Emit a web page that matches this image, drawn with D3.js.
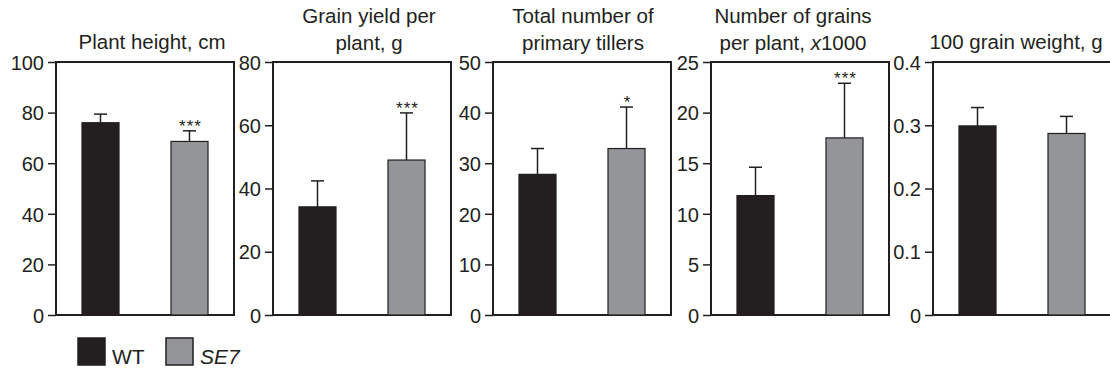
<!DOCTYPE html>
<html>
<head>
<meta charset="utf-8">
<script src="https://cdn.jsdelivr.net/npm/d3@7"></script>
<style>
  body { margin: 0; background: #fff; }
  text { font-family: "Liberation Sans", Arial, Helvetica, sans-serif; fill: #231f20; }
</style>
</head>
<body>
<div id="chart"></div>
<script>
// data
var groups = ["WT", "SE7"];
var titles = [
  ["Plant height, cm"],
  ["Grain yield per", "plant, g"],
  ["Total number of", "primary tillers"],
  ["Number of grains", "per plant, x1000"],
  ["100 grain weight, g"]
];
var yMax = [100, 80, 50, 25, 0.4];
var tickVals = [
  [0, 20, 40, 60, 80, 100],
  [0, 20, 40, 60, 80],
  [0, 10, 20, 30, 40, 50],
  [0, 5, 10, 15, 20, 25],
  [0, 0.1, 0.2, 0.3, 0.4]
];
var wtMeans = [76, 34.2, 27.8, 11.8, 0.299];
var wtErr = [3.4, 8.2, 5.1, 2.8, 0.029];
var se7Means = [68.6, 49.0, 32.9, 17.5, 0.287];
var se7Err = [4.2, 14.9, 8.2, 5.4, 0.027];
var stars = ["***", "***", "*", "***", ""];

var width = 1110;
var height = 370;
var panelLeft = [56, 273, 493, 711, 933];
var titleShift = [7, 7, 1, -7, -6];
var panelW = 178;
var plotTop = 62;
var plotBottom = 315;
var colors = { WT: "#231f20", SE7: "#939598" };

var svg = d3.select("#chart")
  .append("svg")
  .attr("width", width)
  .attr("height", height);

titles.forEach(function (t, i) {
  var g = svg.append("g").attr("transform", `translate(${panelLeft[i]},0)`);

  var x = d3.scaleBand()
    .domain(groups)
    .range([0, panelW])
    .paddingInner(0.584)
    .paddingOuter(0.292);

  var y = d3.scaleLinear()
    .domain([0, yMax[i]])
    .range([plotBottom, plotTop]);

  var rows = [
    { name: "WT", v: wtMeans[i], e: wtErr[i], s: "" },
    { name: "SE7", v: se7Means[i], e: se7Err[i], s: stars[i] }
  ];

  // frame
  g.append("rect")
    .attr("x", 0)
    .attr("y", plotTop)
    .attr("width", panelW)
    .attr("height", plotBottom - plotTop)
    .attr("fill", "none")
    .attr("stroke", "#231f20")
    .attr("stroke-width", 2);

  // error bars (drawn first so the bar covers the lower half)
  var err = g.selectAll(".err").data(rows).enter().append("g");
  err.append("line")
    .attr("x1", function (d) { return x(d.name) + x.bandwidth() / 2; })
    .attr("x2", function (d) { return x(d.name) + x.bandwidth() / 2; })
    .attr("y1", function (d) { return y(d.v); })
    .attr("y2", function (d) { return y(d.v + d.e); })
    .attr("stroke", "#231f20")
    .attr("stroke-width", 1.5);
  err.append("line")
    .attr("x1", function (d) { return x(d.name) + x.bandwidth() / 2 - 6.5; })
    .attr("x2", function (d) { return x(d.name) + x.bandwidth() / 2 + 6.5; })
    .attr("y1", function (d) { return y(d.v + d.e); })
    .attr("y2", function (d) { return y(d.v + d.e); })
    .attr("stroke", "#231f20")
    .attr("stroke-width", 1.5);

  g.selectAll(".bar")
    .data(rows)
    .enter()
    .append("rect")
    .attr("x", function (d) { return x(d.name); })
    .attr("y", function (d) { return y(d.v); })
    .attr("width", x.bandwidth())
    .attr("height", function (d) { return plotBottom - y(d.v); })
    .attr("fill", function (d) { return colors[d.name]; })
    .attr("stroke", "#231f20")
    .attr("stroke-width", 1.2);

  g.selectAll(".star")
    .data(rows)
    .enter()
    .append("text")
    .attr("x", function (d) { return x(d.name) + x.bandwidth() / 2 + 1; })
    .attr("y", function (d) { return y(d.v + d.e) + 1; })
    .attr("text-anchor", "middle")
    .style("font-size", "17px")
    .style("letter-spacing", "1px")
    .text(function (d) { return d.s; });

  // y axis
  var axis = g.append("g")
    .call(d3.axisLeft(y)
      .tickValues(tickVals[i])
      .tickFormat(function (d) { return String(d); })
      .tickSize(8)
      .tickSizeOuter(0)
      .tickPadding(4));
  axis.select(".domain").remove();
  axis.selectAll("line").attr("stroke", "#231f20").attr("stroke-width", 1.5);
  axis.selectAll("text").style("font-size", "20px").attr("dy", "0.36em");

  // title
  var base = t.length === 1 ? [49] : [23, 50];
  var tt = g.append("text")
    .attr("text-anchor", "middle")
    .style("font-size", "20.5px");
  t.forEach(function (line, k) {
    var span = tt.append("tspan")
      .attr("x", panelW / 2 + titleShift[i])
      .attr("y", base[k]);
    if (line.indexOf("x1000") >= 0) {
      span.text("per plant, ");
      tt.append("tspan").style("font-style", "italic").text("x");
      tt.append("tspan").text("1000");
    } else {
      span.text(line);
    }
  });
});

// legend
var legend = svg.append("g").attr("transform", "translate(78,338)");
var legX = [0, 88];
groups.forEach(function (name, i) {
  legend.append("rect")
    .attr("x", legX[i])
    .attr("y", 0)
    .attr("width", 27)
    .attr("height", 27)
    .attr("fill", colors[name])
    .attr("stroke", "#231f20")
    .attr("stroke-width", 1.5);
  legend.append("text")
    .attr("x", legX[i] + 34)
    .attr("y", 26)
    .style("font-size", "21px")
    .style("font-style", i === 1 ? "italic" : "normal")
    .text(name);
});
</script>
</body>
</html>
